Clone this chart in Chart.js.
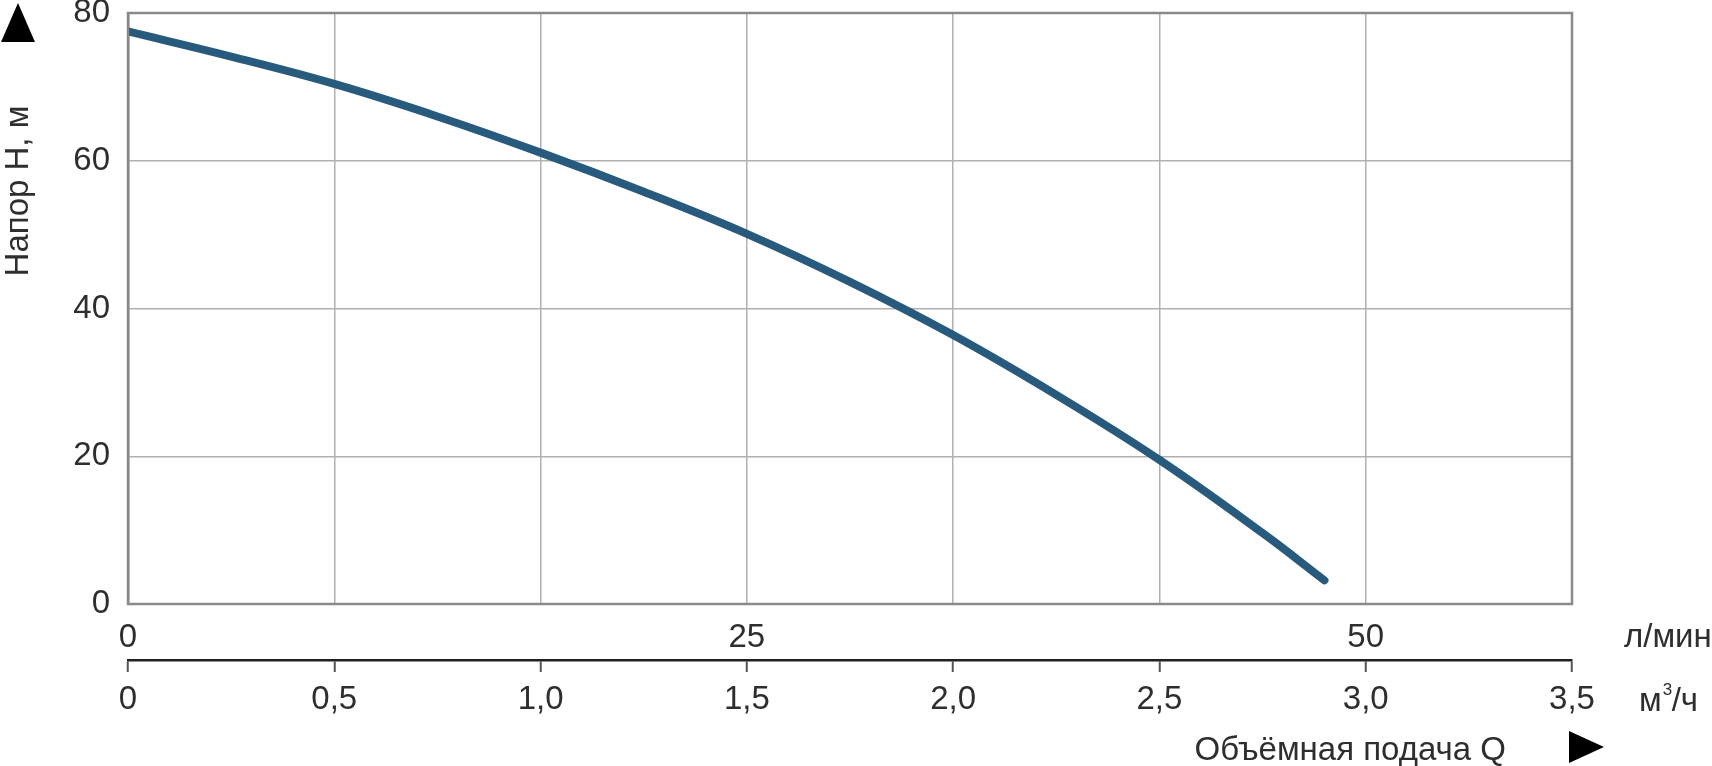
<!DOCTYPE html>
<html>
<head>
<meta charset="utf-8">
<script src="https://cdn.jsdelivr.net/npm/chart.js@4/dist/chart.umd.min.js"></script>
<style>
  html, body { margin: 0; padding: 0; background: #fff; }
  #wrap { width: 1712px; height: 766px; }
</style>
</head>
<body>
<div id="wrap"><canvas id="myChart" width="1712" height="766"></canvas></div>
<script>
// Напорная характеристика насоса
const flowM3h = [0, 0.25, 0.5, 0.75, 1.0, 1.25, 1.5, 1.75, 2.0, 2.25, 2.5, 2.75, 2.9]
const headM   = [77.5, 74.1, 70.4, 66.0, 61.1, 55.8, 50.1, 43.6, 36.4, 28.3, 19.5, 9.6, 3.2]

const qTickLabels = ['0', '0,5', '1,0', '1,5', '2,0', '2,5', '3,0', '3,5']
const lminTickLabels = ['0', '25', '50']
const hTickLabels = ['0', '20', '40', '60', '80']

const FONT = "'Liberation Sans', Arial, sans-serif"
const SIZE = 33
const TEXT = '#2e2e2e'

// рамка, стрелки и подписи осей
const decor = {
  id: 'decor',
  afterDraw(chart) {
    const ctx = chart.ctx
    const a = chart.chartArea
    ctx.save()
    ctx.strokeStyle = '#8a8a8a'
    ctx.lineWidth = 2.5
    ctx.strokeRect(a.left, a.top, a.right - a.left, a.bottom - a.top)

    ctx.fillStyle = '#000'
    ctx.beginPath()
    ctx.moveTo(18, 3); ctx.lineTo(35, 42); ctx.lineTo(1, 42)
    ctx.closePath(); ctx.fill()
    ctx.beginPath()
    ctx.moveTo(1569, 731); ctx.lineTo(1604, 747); ctx.lineTo(1569, 763)
    ctx.closePath(); ctx.fill()

    ctx.fillStyle = TEXT
    ctx.font = SIZE + 'px ' + FONT
    ctx.textBaseline = 'middle'
    ctx.textAlign = 'left'
    ctx.fillText('л/мин', 1624, 638)
    ctx.fillText('м', 1639, 702)
    const mw = ctx.measureText('м').width
    ctx.font = '17px ' + FONT
    ctx.fillText('3', 1639 + mw + 1, 690)
    ctx.font = SIZE + 'px ' + FONT
    ctx.fillText('/ч', 1639 + mw + 10, 702)
    ctx.textAlign = 'right'
    ctx.fillText('Объёмная подача Q', 1506, 751)

    ctx.translate(19, 191)
    ctx.rotate(-Math.PI / 2)
    ctx.textAlign = 'center'
    ctx.fillText('Напор H, м', 0, 0)
    ctx.restore()
  }
}

const ctx = document.getElementById('myChart')
const myChart = new Chart(ctx, {
  type: 'line',
  data: {
    datasets: [{
      label: 'H',
      data: flowM3h.map((q, i) => ({ x: q, y: headM[i] })),
      borderColor: '#275a7d',
      borderWidth: 8,
      borderCapStyle: 'round',
      tension: 0.4,
      pointRadius: 0,
      xAxisID: 'x',
      yAxisID: 'y'
    }]
  },
  options: {
    responsive: false,
    animation: false,
    layout: { padding: { top: 13, right: 140, bottom: 0, left: 0 } },
    plugins: { legend: { display: false }, tooltip: { enabled: false } },
    scales: {
      y: {
        type: 'linear', position: 'left', min: 0, max: 80,
        afterFit: s => { s.width = 128; s.paddingTop = 0; s.paddingBottom = 0 },
        ticks: {
          stepSize: 20, padding: 18, color: TEXT,
          font: { family: FONT, size: SIZE },
          callback: (v, i) => hTickLabels[i]
        },
        grid: { color: '#b0b0b0', lineWidth: 1.5, drawTicks: false },
        border: { color: '#8a8a8a', width: 2.5 }
      },
      x2: {
        type: 'linear', position: 'bottom', weight: 0,
        min: 0, max: 3.5 * 50 / 3,
        afterFit: s => { s.height = 56 },
        ticks: {
          stepSize: 25, padding: 6, color: TEXT, maxRotation: 0,
          includeBounds: false, autoSkip: false,
          font: { family: FONT, size: SIZE },
          callback: (v, i) => lminTickLabels[i]
        },
        grid: { display: false },
        border: { display: false }
      },
      x: {
        type: 'linear', position: 'bottom', weight: 1,
        min: 0, max: 3.5,
        afterFit: s => { s.height = 106 },
        ticks: {
          stepSize: 0.5, padding: 8, color: TEXT, maxRotation: 0, autoSkip: false,
          font: { family: FONT, size: SIZE },
          callback: (v, i) => qTickLabels[i]
        },
        grid: { color: '#b0b0b0', lineWidth: 1.5, tickLength: 12, tickColor: '#555', tickWidth: 2 },
        border: { color: '#231f20', width: 2.5 }
      }
    }
  },
  plugins: [decor]
})
</script>
</body>
</html>
